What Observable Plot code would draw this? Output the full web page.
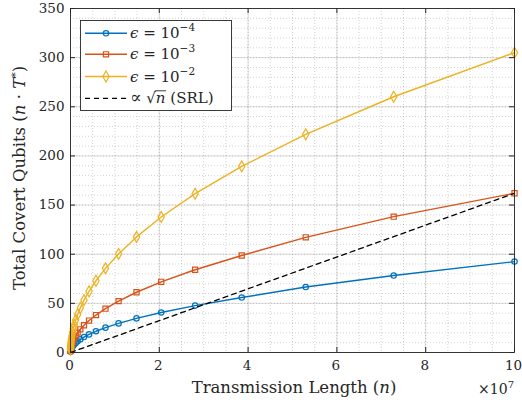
<!DOCTYPE html>
<html><head><meta charset="utf-8">
<script src="https://cdn.jsdelivr.net/npm/d3@7"></script>
<script src="https://cdn.jsdelivr.net/npm/@observablehq/plot@0.6"></script>
<style>body{margin:0;background:#fff}#chart{width:522px;height:408px}</style>
</head><body><div id="chart"></div>
<script>
const nValues = [1e4, 1.37e4, 1.89e4, 2.59e4, 3.56e4, 4.89e4, 6.72e4, 9.24e4, 1.269e5, 1.743e5, 2.395e5, 3.29e5, 4.52e5, 6.21e5, 8.53e5, 1.172e6, 1.610e6, 2.212e6, 3.039e6, 4.175e6, 5.736e6, 7.88e6, 1.083e7, 1.487e7, 2.043e7, 2.807e7, 3.857e7, 5.298e7, 7.279e7, 1e8];
const eps4 = [0.9, 1.05, 1.2, 1.4, 1.7, 2.0, 2.3, 2.7, 3.2, 3.8, 4.4, 5.2, 6.0, 7.1, 8.3, 9.7, 11.4, 13.4, 15.7, 18.4, 21.6, 25.3, 29.6, 34.7, 40.7, 47.7, 55.9, 66.6, 78.3, 92.5];
const eps3 = [1.6, 1.9, 2.2, 2.6, 3.0, 3.5, 4.1, 4.8, 5.7, 6.6, 7.8, 9.1, 10.7, 12.5, 14.7, 17.2, 20.2, 23.6, 27.7, 32.5, 38.1, 44.6, 52.3, 61.3, 71.9, 84.2, 98.7, 117.2, 138.2, 162];
const eps2 = [3.05, 3.6, 4.2, 4.9, 5.8, 6.7, 7.9, 9.3, 10.9, 12.7, 14.9, 17.5, 20.5, 24.0, 28.2, 33.0, 38.7, 45.4, 53.2, 62.3, 73.0, 85.6, 100.3, 117.6, 137.9, 161.6, 189.4, 222.0, 260.2, 305];
const srl = [0.016, 0.02, 0.03, 0.04, 0.06, 0.08, 0.11, 0.15, 0.21, 0.28, 0.39, 0.53, 0.73, 1.0, 1.4, 1.9, 2.6, 3.6, 4.9, 6.8, 9.3, 12.8, 17.5, 24.1, 33.1, 45.5, 62.5, 85.8, 117.9, 162];
const xTicks = [0, 2e7, 4e7, 6e7, 8e7, 1e8];
const xTickLabels = ["0", "2", "4", "6", "8", "10"];
const yTicks = [0, 50, 100, 150, 200, 250, 300, 350];
const seriesExp = ["\u22124", "\u22123", "\u22122"];

const colors = ["#0072BD", "#D95319", "#EDB120"];
const symbols = ["circle", "square", "diamond"];
const radii = [2.7, 2.9, 3.3];
const seriesVals = [eps4, eps3, eps2];
const tbl = seriesVals.map(vals => nValues.map((n, i) => ({n, v: vals[i]})));
const srlTbl = nValues.map((n, i) => ({n, v: srl[i]}));

const W = 522, H = 408, mL = 70, mR = 8, mT = 8, mB = 56;
const fw = W - mL - mR, fh = H - mT - mB;
const xMinor = d3.range(0, 1e8 + 1, 5e6);
const yMinor = d3.range(0, 351, 10);
const AX = "#262626";
const FONT = "'DejaVu Serif', serif";

const marks = [
  Plot.gridX(xMinor, {stroke: "#000", strokeOpacity: 0.18, strokeDasharray: "1,2"}),
  Plot.gridY(yMinor, {stroke: "#000", strokeOpacity: 0.18, strokeDasharray: "1,2"}),
  Plot.gridX(xTicks, {stroke: "#000", strokeOpacity: 0.13}),
  Plot.gridY(yTicks, {stroke: "#000", strokeOpacity: 0.13}),
];
tbl.forEach((d, k) => {
  marks.push(Plot.line(d, {x: "n", y: "v", stroke: colors[k], strokeWidth: 1.4}));
  marks.push(Plot.dot(d, {x: "n", y: "v", symbol: symbols[k], r: radii[k], stroke: colors[k], fill: "none", strokeWidth: 1.2}));
});
marks.push(Plot.line(srlTbl, {x: "n", y: "v", stroke: "#000", strokeWidth: 1.3, strokeDasharray: "5,4"}));
marks.push(
  Plot.tickX(xTicks, {x: d => d, stroke: AX, insetTop: fh - 5}),
  Plot.tickX(xTicks, {x: d => d, stroke: AX, insetBottom: fh - 5}),
  Plot.tickY(yTicks, {y: d => d, stroke: AX, insetRight: fw - 5}),
  Plot.tickY(yTicks, {y: d => d, stroke: AX, insetLeft: fw - 5}),
  Plot.frame({stroke: AX, strokeWidth: 0.9}),
  Plot.axisX(xTicks, {tickSize: 0, tickPadding: 8, dx: -1, tickFormat: d => xTickLabels[xTicks.indexOf(d)], label: null, color: AX}),
  Plot.axisY(yTicks, {tickSize: 0, tickPadding: 6, label: null, color: AX})
);

const svg = Plot.plot({
  width: W, height: H,
  marginLeft: mL, marginRight: mR, marginTop: mT, marginBottom: mB,
  x: {domain: [0, 1e8]},
  y: {domain: [0, 350]},
  style: {fontFamily: FONT, fontSize: "13.5px", background: "#fff", color: AX},
  marks
});
document.getElementById("chart").appendChild(svg);

const s = d3.select(svg);
function txt(x, y, size, anchor) {
  return s.append("text").attr("x", x).attr("y", y).attr("text-anchor", anchor)
    .style("font-family", FONT).attr("font-size", size).attr("fill", AX);
}
// x label
const xl = txt(mL + fw / 2 + 2, 393, 16.5, "middle");
xl.append("tspan").text("Transmission Length (");
xl.append("tspan").attr("font-style", "italic").text("n");
xl.append("tspan").text(")");
// x10^7
const xm = txt(514, 394, 14, "end");
xm.append("tspan").text("\u00d710");
xm.append("tspan").attr("dy", -6).attr("font-size", 10).text("7");
// y label
const yl = s.append("text").attr("transform", `translate(25,${mT + fh / 2 - 2}) rotate(-90)`).attr("text-anchor", "middle")
  .style("font-family", FONT).attr("font-size", 16.5).attr("fill", AX);
yl.append("tspan").text("Total Covert Qubits (");
yl.append("tspan").attr("font-style", "italic").text("n");
yl.append("tspan").text(" \u00b7 ");
yl.append("tspan").attr("font-style", "italic").text("T");
yl.append("tspan").attr("dy", -6).attr("font-size", 11).text("*");
yl.append("tspan").attr("dy", 6).text(")");

// legend
const lg = s.append("g");
lg.append("rect").attr("x", 80.5).attr("y", 20.5).attr("width", 151).attr("height", 90)
  .attr("fill", "#fff").attr("stroke", AX).attr("stroke-width", 0.9);
const rows = [33.3, 54.3, 76.5, 98.3];
const symGen = {circle: d3.symbolCircle, square: d3.symbolSquare, diamond: d3.symbolDiamond};
for (let k = 0; k < 3; k++) {
  const y = rows[k];
  lg.append("line").attr("x1", 85).attr("x2", 127).attr("y1", y).attr("y2", y)
    .attr("stroke", colors[k]).attr("stroke-width", 1.4);
  lg.append("path").attr("transform", `translate(106,${y})`)
    .attr("d", d3.symbol(symGen[symbols[k]], Math.PI * radii[k] * radii[k])())
    .attr("fill", "none").attr("stroke", colors[k]).attr("stroke-width", 1.2);
  const t = lg.append("text").attr("x", 130).attr("y", y + 5).attr("text-anchor", "start")
    .style("font-family", FONT).attr("font-size", 15).attr("fill", AX);
  t.append("tspan").attr("font-style", "italic").text("\u03f5");
  t.append("tspan").text(" = 10");
  t.append("tspan").attr("dy", -7).attr("font-size", 10.5).text(seriesExp[k]);
}
{
  const y = rows[3];
  lg.append("line").attr("x1", 85).attr("x2", 127).attr("y1", y).attr("y2", y)
    .attr("stroke", "#000").attr("stroke-width", 1.3).attr("stroke-dasharray", "5,4");
  const t = lg.append("text").attr("x", 130).attr("y", y + 5).attr("text-anchor", "start")
    .style("font-family", FONT).attr("font-size", 15).attr("fill", AX);
  t.append("tspan").attr("font-size", 17).text("\u221d");
  t.append("tspan").text(" \u221a");
  t.append("tspan").attr("font-style", "italic").text("n");
  t.append("tspan").text(" (SRL)");
  // overline of the square root over n
  try {
    const node = t.node();
    const full = node.textContent;
    const idx = full.indexOf("n");
    const ext = node.getExtentOfChar(idx);
    const rt = node.getExtentOfChar(idx - 1);
    lg.append("line").attr("x1", rt.x + rt.width - 1).attr("x2", ext.x + ext.width + 0.5)
      .attr("y1", rt.y + 1.5).attr("y2", rt.y + 1.5).attr("stroke", AX).attr("stroke-width", 0.9);
  } catch (e) {}
}
</script></body></html>
